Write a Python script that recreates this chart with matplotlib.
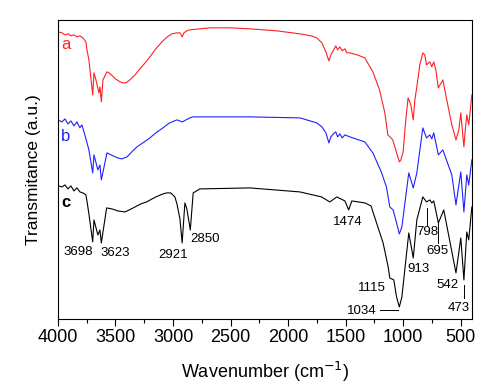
import matplotlib
matplotlib.use('Agg')
import matplotlib.pyplot as plt
from matplotlib.ticker import MultipleLocator

plt.rcParams['font.family'] = ['Liberation Sans', 'DejaVu Sans']

# FTIR spectra, values (offset a.u.)
wn_a = [4000, 3965, 3939, 3913, 3887, 3861, 3835, 3809, 3783, 3757, 3748, 3731, 3698, 3687,
        3670, 3644, 3635, 3623, 3609, 3574, 3555, 3500, 3460, 3435, 3410, 3375, 3330, 3288,
        3250, 3201, 3150, 3088, 3050, 3010, 2966, 2940, 2921, 2906, 2880, 2854, 2680, 2500,
        2332, 2100, 1898, 1800, 1751, 1707, 1672, 1646, 1629, 1600, 1586, 1570, 1551, 1530,
        1507, 1490, 1464, 1400, 1334, 1264, 1206, 1160, 1134, 1115, 1091, 1058, 1034, 1021,
        1001, 978, 958, 934, 913, 899, 882, 856, 830, 813, 798, 769, 752, 735, 717, 695,
        656, 622, 578, 542, 517, 500, 483, 473, 465, 448, 431, 422, 404]
t_a = [287, 286, 284, 285, 283, 284, 282, 283, 281, 277, 269, 259, 224, 246,
       239, 226, 232, 217, 239, 247, 246, 240, 237, 236, 236, 239, 244, 250,
       255, 262, 270, 278, 282, 285, 286, 286, 282, 286, 288, 289, 291, 291,
       290, 288, 285, 283, 281, 276, 267, 258, 264, 270, 273, 269, 272, 268,
       270, 266, 266, 264, 261, 247, 229, 206, 184, 182, 179, 166, 157, 159,
       167, 199, 221, 214, 199, 219, 232, 254, 266, 264, 254, 257, 252, 257, 249, 231,
       239, 219, 194, 179, 189, 206, 184, 172, 184, 204, 194, 204, 224]

wn_b = [4000, 3965, 3939, 3913, 3887, 3861, 3835, 3809, 3792, 3766, 3731, 3698, 3687, 3653,
        3635, 3623, 3574, 3520, 3480, 3444, 3400, 3350, 3314, 3250, 3201, 3150, 3088, 3030,
        2966, 2921, 2854, 2828, 2680, 2332, 1898, 1751, 1707, 1672, 1646, 1629, 1600, 1586,
        1570, 1551, 1530, 1507, 1464, 1334, 1264, 1191, 1146, 1117, 1088, 1058, 1034, 1012,
        952, 913, 882, 830, 798, 769, 752, 735, 695, 656, 578, 542, 500, 473, 448, 431, 404]
t_b = [199, 197, 200, 195, 198, 193, 197, 191, 194, 184, 169, 146, 164, 149,
       154, 139, 166, 163, 161, 160, 162, 168, 172, 177, 181, 186, 191, 196,
       199, 197, 201, 202, 202, 202, 201, 196, 192, 186, 176, 182, 186, 187,
       182, 185, 181, 184, 182, 177, 166, 147, 132, 112, 109, 96, 85, 92,
       146, 131, 146, 191, 181, 184, 180, 186, 164, 169, 144, 114, 147, 107, 144, 134, 159]

wn_c = [4000, 3965, 3939, 3913, 3887, 3861, 3835, 3809, 3783, 3757, 3748, 3731, 3698, 3687,
        3653, 3635, 3623, 3577, 3530, 3480, 3418, 3380, 3330, 3280, 3230, 3150, 3088, 3056,
        3020, 2984, 2966, 2940, 2921, 2897, 2880, 2850, 2825, 2767, 2332, 1898, 1710, 1638,
        1577, 1507, 1474, 1447, 1334, 1280, 1232, 1175, 1131, 1117, 1082, 1058, 1034, 1012,
        952, 913, 882, 830, 798, 769, 752, 735, 695, 648, 542, 500, 473, 448, 431, 404]
t_c = [133, 132, 134, 130, 133, 128, 131, 127, 126, 124, 118, 105, 77, 99,
       84, 89, 76, 111, 110, 108, 107, 109, 112, 115, 117, 122, 125, 126,
       126, 122, 115, 100, 76, 116, 110, 89, 126, 130, 131, 127, 122, 117,
       122, 118, 109, 118, 116, 113, 96, 76, 52, 41, 39, 22, 12, 22,
       86, 61, 99, 122, 117, 119, 116, 118, 96, 109, 46, 81, 39, 87, 79, 112]

peak_labels = ['3698', '3623', '2921', '2850', '1474', '1115', '1034', '913', '798', '695', '542', '473']
label_x = [3826, 3505, 3001, 2723, 1481, 1273, 1360, 865, 787, 700, 613, 517]
label_y = [67, 66, 64, 80, 97, 31, 8, 50, 87, 68, 34, 11]

fig = plt.figure(figsize=(4.91, 3.89), dpi=100)
ax = fig.add_axes([0.118, 0.180, 0.843, 0.769])

ax.plot(wn_a, t_a, color='#ff2020', lw=0.8)
ax.plot(wn_b, t_b, color='#2020ff', lw=0.8)
ax.plot(wn_c, t_c, color='black', lw=0.8)

ax.text(3930, 274, 'a', color='#ff2020', fontsize=12, ha='center', va='center')
ax.text(3930, 182, 'b', color='#2020ff', fontsize=12, ha='center', va='center')
ax.text(3930, 116, 'c', color='black', fontsize=12, ha='center', va='center', fontweight='bold')

for lab, lx, ly in zip(peak_labels, label_x, label_y):
    ax.text(lx, ly, lab, fontsize=9.5, ha='center', va='center')

# leader lines
ax.plot([798, 798], [111, 94], color='black', lw=0.7)
ax.plot([695, 695], [96, 76], color='black', lw=0.7)
ax.plot([474, 474], [34, 21], color='black', lw=0.7)
ax.plot([1203, 1047], [9, 9], color='black', lw=0.7)

ax.set_xlim(4000, 404)
ax.set_ylim(0, 299)
ax.xaxis.set_major_locator(MultipleLocator(500))
ax.xaxis.set_minor_locator(MultipleLocator(250))
ax.tick_params(axis='x', which='major', direction='out', length=5, width=0.8, labelsize=13, pad=2)
ax.tick_params(axis='x', which='minor', direction='out', length=3, width=0.8)
ax.set_yticks([])
for s in ax.spines.values():
    s.set_linewidth(0.8)

ax.set_xlabel('Wavenumber (cm$^{-1}$)', fontsize=13, labelpad=10)
ax.set_ylabel('Transmitance (a.u.)', fontsize=12.5, labelpad=12)

fig.savefig('out.png', dpi=100)
